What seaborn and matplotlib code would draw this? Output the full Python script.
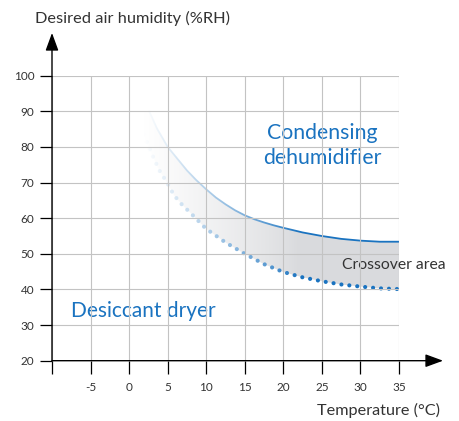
import numpy as np
import pandas as pd
import matplotlib
matplotlib.use("Agg")
import matplotlib.pyplot as plt
import seaborn as sns

# Condensing dehumidifier (solid line)
cond_temp = [2.6, 3.6, 5, 6.4, 7.5, 8.7, 10, 11.25, 12.5, 13.75, 15, 16.25, 17.5, 18.75,
             20, 22.5, 25, 27.5, 30, 32.5, 35]
cond_rh = [90, 85.2, 80, 76.3, 73.4, 70.7, 68.1, 65.8, 63.9, 62.2, 60.8, 59.7, 58.8, 58.0,
           57.3, 56.0, 55.0, 54.2, 53.7, 53.4, 53.4]

# Desiccant dryer (dotted line)
dry_temp = [1.2, 1.6, 2.3, 3.1, 3.9, 5, 5.8, 6.9, 8, 9.4, 10, 12.5, 15, 17.5, 20, 22.5, 25, 27.5, 30, 32.5, 35]
dry_rh = [90, 85.7, 81.5, 77.3, 73.5, 69.7, 66.5, 63.7, 61.4, 58.3, 57.0, 53.2, 50.0, 47.1, 44.9, 43.4, 42.3, 41.4, 40.8, 40.3, 40.1]

x_ticks = [-10, -5, 0, 5, 10, 15, 20, 25, 30, 35]
x_labels = ["", "-5", "0", "5", "10", "15", "20", "25", "30", "35"]
y_ticks = [20, 30, 40, 50, 60, 70, 80, 90, 100]

BLUE = "#1a73c0"
TXT = "#333333"

sns.set_theme(style="white")
plt.rcParams["font.family"] = ["Lato", "DejaVu Sans"]

fig = plt.figure(figsize=(4.59, 4.21), dpi=100)
ax = fig.add_axes([52 / 459, 60.3 / 421, 347 / 459, 285 / 421])

# crossover area (gray band between the two curves)
ax.fill(np.concatenate([cond_temp, dry_temp[::-1]]),
        np.concatenate([cond_rh, dry_rh[::-1]]),
        color="#d9dadd", lw=0, zorder=1)

df_cond = pd.DataFrame({"temp": cond_temp, "rh": cond_rh})
df_dry = pd.DataFrame({"temp": dry_temp, "rh": dry_rh})
sns.lineplot(data=df_cond, x="temp", y="rh", color=BLUE, lw=1.3,
             sort=False, estimator=None, ax=ax, zorder=2)
sns.lineplot(data=df_dry, x="temp", y="rh", color=BLUE, lw=3.0,
             linestyle=(0, (0.01, 1.9)), dash_capstyle="round",
             sort=False, estimator=None, ax=ax, zorder=2)

# white fade towards the upper left
xs = np.linspace(-10, 35, 300)
alpha = np.clip((22 - xs) / 20, 0, 1) ** 0.8
fade = np.ones((1, len(xs), 4))
fade[0, :, 3] = alpha
ax.imshow(fade, extent=(-10, 35, 20, 100), aspect="auto",
          interpolation="bilinear", zorder=2.4)

ax.set_xlim(-10, 35)
ax.set_ylim(20, 100)

# grid on top of the fill
ax.set_axisbelow(False)
ax.grid(True, color="#c3c3c3", lw=0.8)
for s in ax.spines.values():
    s.set_visible(False)

ax.set_xticks(x_ticks)
ax.set_xticklabels(x_labels)
ax.set_yticks(y_ticks)
ax.tick_params(axis="x", direction="out", length=9.4, width=0.9, color="black",
               pad=6, labelsize=8.5, labelcolor=TXT)
ax.tick_params(axis="y", direction="out", length=8.6, width=0.9, color="black",
               pad=4, labelsize=8.5, labelcolor=TXT)
ax.tick_params(bottom=True, left=True)
ax.set_xlabel("")
ax.set_ylabel("")

# axis lines with arrows
ax.annotate("", xy=(0, 1.15), xytext=(0, 0), xycoords="axes fraction",
            arrowprops=dict(arrowstyle="-|>,head_length=0.9,head_width=0.33",
                            color="black", lw=1.0, shrinkA=0, shrinkB=0))
ax.annotate("", xy=(1.127, 0), xytext=(0, 0), xycoords="axes fraction",
            arrowprops=dict(arrowstyle="-|>,head_length=0.9,head_width=0.33",
                            color="black", lw=1.0, shrinkA=0, shrinkB=0))

# labels
fig.text(35 / 459, 1 - 18 / 421, "Desired air humidity (%RH)", fontsize=11.8,
         color=TXT, ha="left", va="center")
fig.text(440 / 459, 1 - 410 / 421, "Temperature (°C)", fontsize=11.7,
         color=TXT, ha="right", va="center")

ax.text(25.1, 80.3, "Condensing\ndehumidifier", fontsize=15.3, color=BLUE,
        ha="center", va="center", linespacing=1.3, zorder=2.45)
ax.text(-7.5, 34, "Desiccant dryer", fontsize=15, color=BLUE,
        ha="left", va="center", zorder=2.45)
ax.text(27.6, 46.8, "Crossover area", fontsize=11.3, color=TXT,
        ha="left", va="center", zorder=2.45, clip_on=False)

fig.savefig("out.png", dpi=100)
